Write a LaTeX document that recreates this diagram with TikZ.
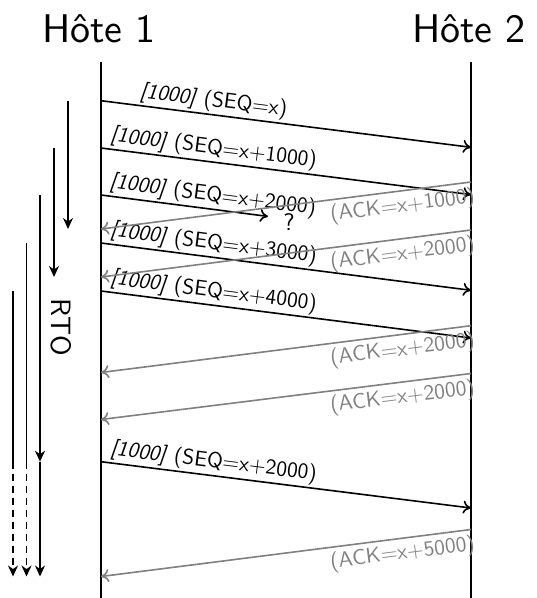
\documentclass[tikz,border=0pt]{standalone}
\usepackage{fontspec}
\setsansfont{lmsans10-regular}[Extension=.otf, ItalicFont=lmsans10-oblique]
\usepackage{tikz}
\usetikzlibrary{positioning,arrows.meta}

\begin{document}
\begin{tikzpicture}[
    x=1pt,
    y=-1pt,
    host/.style={
        font=\fontsize{40}{48}\selectfont\sffamily,
        anchor=base,
        inner sep=0pt
    },
    lifeline/.style={line width=2pt},
    msg/.style={
        line width=1.6pt,
        -{To[length=8pt,width=13pt]}
    },
    ack/.style={msg, gray},
    timer/.style={
        line width=1.6pt,
        -{Stealth[length=11pt,width=10pt]}
    },
    seqlabel/.style={
        sloped,
        above,
        font=\fontsize{21.5}{25}\selectfont\sffamily,
        inner sep=2pt
    },
    acklabel/.style={
        sloped,
        below,
        font=\fontsize{21.5}{25}\selectfont\sffamily,
        text=gray,
        inner sep=4pt
    },
    rtolabel/.style={
        font=\fontsize{28}{32}\selectfont\sffamily,
        rotate=-90
    }
]
\useasboundingbox (0,0) rectangle (537,598);

% ------------------------------------------------------------
% Hosts
% ------------------------------------------------------------

\node[host] (h1) at (99,42) {Hôte 1};
\node[host] (h2) at (469,42) {Hôte 2};

\coordinate (h1top) at (101,62);
\coordinate (h1bot) at (101,598);
\coordinate (h2top) at (471,62);
\coordinate (h2bot) at (471,598);

\draw[lifeline] (h1top) -- (h1bot);
\draw[lifeline] (h2top) -- (h2bot);

% ------------------------------------------------------------
% Segments Hote 1 -> Hote 2
% ------------------------------------------------------------

\coordinate (send1) at (101,100.7);
\coordinate (send2) at (101,148);
\coordinate (send3) at (101,195);
\coordinate (send4) at (101,243);
\coordinate (send5) at (101,291);
\coordinate (send6) at (101,461.7);

\coordinate (recv1) at (471,147.3);
\coordinate (recv2) at (471,194.6);
\coordinate (lost)  at (268,216.4);
\coordinate (recv4) at (471,290.3);
\coordinate (recv5) at (471,338);
\coordinate (recv6) at (471,508);

\draw[msg] (send1) --
    node[seqlabel, pos=0.3] {\textit{[1000]} (SEQ=x)}
    (recv1);
\draw[msg] (send2) --
    node[seqlabel, pos=0.3] {\textit{[1000]} (SEQ=x+1000)}
    (recv2);
\draw[msg] (send3) --
    node[seqlabel, pos=0.66] {\textit{[1000]} (SEQ=x+2000)}
    (lost);
\node[font=\fontsize{24}{28}\selectfont\sffamily, inner sep=0pt] (q) at (289,222) {?};
\draw[msg] (send4) --
    node[seqlabel, pos=0.3] {\textit{[1000]} (SEQ=x+3000)}
    (recv4);
\draw[msg] (send5) --
    node[seqlabel, pos=0.3] {\textit{[1000]} (SEQ=x+4000)}
    (recv5);
\draw[msg] (send6) --
    node[seqlabel, pos=0.3] {\textit{[1000]} (SEQ=x+2000)}
    (recv6);

% ------------------------------------------------------------
% ACK Hote 2 -> Hote 1
% ------------------------------------------------------------

\coordinate (ackout1) at (471,182);
\coordinate (ackout2) at (471,230);
\coordinate (ackout3) at (471,325.7);
\coordinate (ackout4) at (471,373.5);
\coordinate (ackout5) at (471,529.5);

\coordinate (ackin1) at (101,229);
\coordinate (ackin2) at (101,277);
\coordinate (ackin3) at (101,372.5);
\coordinate (ackin4) at (101,419.5);
\coordinate (ackin5) at (101,576.5);

\draw[ack] (ackout1) --
    node[acklabel, pos=0.19] {(ACK=x+1000)}
    (ackin1);
\draw[ack] (ackout2) --
    node[acklabel, pos=0.19] {(ACK=x+2000)}
    (ackin2);
\draw[ack] (ackout3) --
    node[acklabel, pos=0.19] {(ACK=x+2000)}
    (ackin3);
\draw[ack] (ackout4) --
    node[acklabel, pos=0.19] {(ACK=x+2000)}
    (ackin4);
\draw[ack] (ackout5) --
    node[acklabel, pos=0.19] {(ACK=x+5000)}
    (ackin5);

% ------------------------------------------------------------
% RTO timers
% ------------------------------------------------------------

\coordinate (rto1s) at (68,100.7);
\coordinate (rto1e) at (68,229);
\coordinate (rto2s) at (54,148);
\coordinate (rto2e) at (54,277);
\coordinate (rto3s) at (40,195);
\coordinate (rto3m) at (40,461.7);
\coordinate (rto3e) at (40,576.5);
\coordinate (rto4s) at (26.5,243);
\coordinate (rto4m) at (26.5,461.7);
\coordinate (rto4e) at (26.5,576.5);
\coordinate (rto5s) at (13,291);
\coordinate (rto5m) at (13,461.7);
\coordinate (rto5e) at (13,576.5);

\draw[timer] (rto1s) -- (rto1e);
\draw[timer] (rto2s) -- (rto2e);
\draw[timer] (rto3s) -- (rto3m);
\draw[timer] (rto3m) -- (rto3e);
\draw[line width=1.6pt] (rto4s) -- (rto4m);
\draw[timer, dash pattern=on 7pt off 5pt] (rto4m) -- (rto4e);
\draw[line width=1.6pt] (rto5s) -- (rto5m);
\draw[timer, dash pattern=on 7pt off 5pt] (rto5m) -- (rto5e);

\node[rtolabel] (rto) at (61,327) {RTO};

\end{tikzpicture}
\end{document}
